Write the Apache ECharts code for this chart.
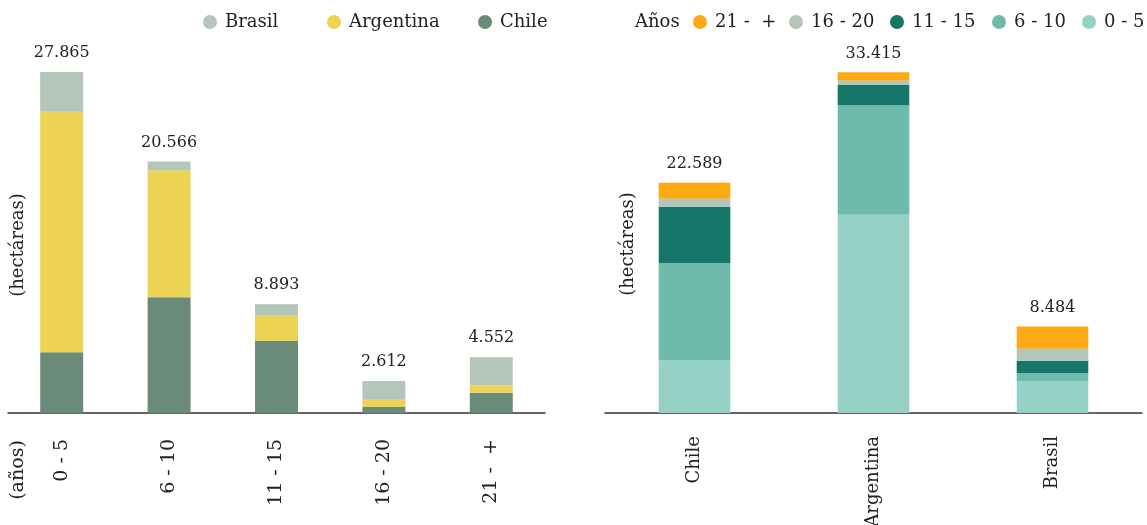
<!DOCTYPE html>
<html>
<head>
<meta charset="utf-8">
<script src="https://cdn.jsdelivr.net/npm/echarts@6/dist/echarts.min.js"></script>
<style>
html,body{margin:0;padding:0;background:#fff;}
#chart{width:1147px;height:525px;}
</style>
</head>
<body>
<div id="chart"></div>
<script>
// Left chart: hectares by age group, stacked by country
const ageCategories = ['0 - 5', '6 - 10', '11 - 15', '16 - 20', '21 -  +'];
const chileByAge = [4962, 9464, 5890, 490, 1660];
const argentinaByAge = [19656, 10389, 2078, 600, 610];
const brasilByAge = [3247, 713, 925, 1522, 2282];

// Right chart: hectares by country, stacked by age group
const countryCategories = ['Chile', 'Argentina', 'Brasil'];
const age0to5 = [5184, 19448, 3148];
const age6to10 = [9542, 10752, 787];
const age11to15 = [5509, 1967, 1180];
const age16to20 = [787, 433, 1180];
const age21plus = [1567, 815, 2189];

const FONT = 'DejaVu Serif';
const TXT = '#222';

function fmt(n) {
  return String(Math.round(n)).replace(/\B(?=(\d{3})+(?!\d))/g, '.');
}
const leftTotals = ageCategories.map((_, i) => chileByAge[i] + argentinaByAge[i] + brasilByAge[i]);
const rightTotals = countryCategories.map((_, i) => age0to5[i] + age6to10[i] + age11to15[i] + age16to20[i] + age21plus[i]);

const totalLabel = (totals) => ({
  show: true, position: 'top', distance: 11,
  color: TXT, fontFamily: FONT, fontSize: 16,
  formatter: p => fmt(totals[p.dataIndex])
});

function bar(name, data, color, axis, stack, label) {
  const s = {
    name, type: 'bar', data, stack, barWidth: '40%',
    xAxisIndex: axis, yAxisIndex: axis,
    itemStyle: { color },
    emphasis: { disabled: true }
  };
  if (label) s.label = label;
  return s;
}

function legendItem(name, left) {
  return {
    data: [name], left, top: 13, padding: 0,
    icon: 'circle', itemWidth: 14, itemHeight: 14,
    selectedMode: false,
    textStyle: { color: TXT, fontFamily: FONT, fontSize: 18, padding: [0, 0, 0, 3] }
  };
}

function xAxis(grid, data, fontSize, margin) {
  return {
    type: 'category', gridIndex: grid, data,
    axisTick: { show: false },
    axisLine: { lineStyle: { color: '#333', width: 1.5 } },
    axisLabel: { rotate: 90, margin, interval: 0, color: TXT, fontFamily: FONT, fontSize }
  };
}

const chart = echarts.init(document.getElementById('chart'));
chart.setOption({
  animation: false,
  backgroundColor: '#fff',
  textStyle: { fontFamily: FONT },
  legend: [
    legendItem('Brasil', 203),
    legendItem('Argentina', 327),
    legendItem('Chile', 478),
    legendItem('21 -  +', 693),
    legendItem('16 - 20', 789),
    legendItem('11 - 15', 890),
    legendItem('6 - 10', 992),
    legendItem('0 - 5', 1082)
  ],
  grid: [
    { left: 8, width: 537, top: 46, height: 367, containLabel: false, outerBoundsMode: 'none' },
    { left: 605, width: 537, top: 46, height: 367, containLabel: false, outerBoundsMode: 'none' }
  ],
  xAxis: [
    xAxis(0, ageCategories, 19, 26),
    xAxis(1, countryCategories, 18, 23)
  ],
  yAxis: [
    { gridIndex: 0, type: 'value', min: 0, max: 30000, show: false },
    { gridIndex: 1, type: 'value', min: 0, max: 36000, show: false }
  ],
  graphic: [
    { type: 'text', x: 635, y: 22, style: { text: 'Años', fill: TXT, font: '18px "DejaVu Serif"', textAlign: 'left', textVerticalAlign: 'middle' } },
    { type: 'text', x: 18, y: 245, rotation: Math.PI / 2, style: { text: '(hectáreas)', fill: TXT, font: '18px "DejaVu Serif"', textAlign: 'center', textVerticalAlign: 'middle' } },
    { type: 'text', x: 628, y: 244, rotation: Math.PI / 2, style: { text: '(hectáreas)', fill: TXT, font: '18px "DejaVu Serif"', textAlign: 'center', textVerticalAlign: 'middle' } },
    { type: 'text', x: 18, y: 470, rotation: Math.PI / 2, style: { text: '(años)', fill: TXT, font: '19px "DejaVu Serif"', textAlign: 'center', textVerticalAlign: 'middle' } }
  ],
  series: [
    bar('Chile', chileByAge, '#6a8b7a', 0, 'age'),
    bar('Argentina', argentinaByAge, '#ecd354', 0, 'age'),
    bar('Brasil', brasilByAge, '#b3c6b9', 0, 'age', totalLabel(leftTotals)),
    bar('0 - 5', age0to5, '#96d1c5', 1, 'country'),
    bar('6 - 10', age6to10, '#6ebbad', 1, 'country'),
    bar('11 - 15', age11to15, '#15776a', 1, 'country'),
    bar('16 - 20', age16to20, '#b3c6b9', 1, 'country'),
    bar('21 -  +', age21plus, '#fca914', 1, 'country', totalLabel(rightTotals))
  ]
});
</script>
</body>
</html>
